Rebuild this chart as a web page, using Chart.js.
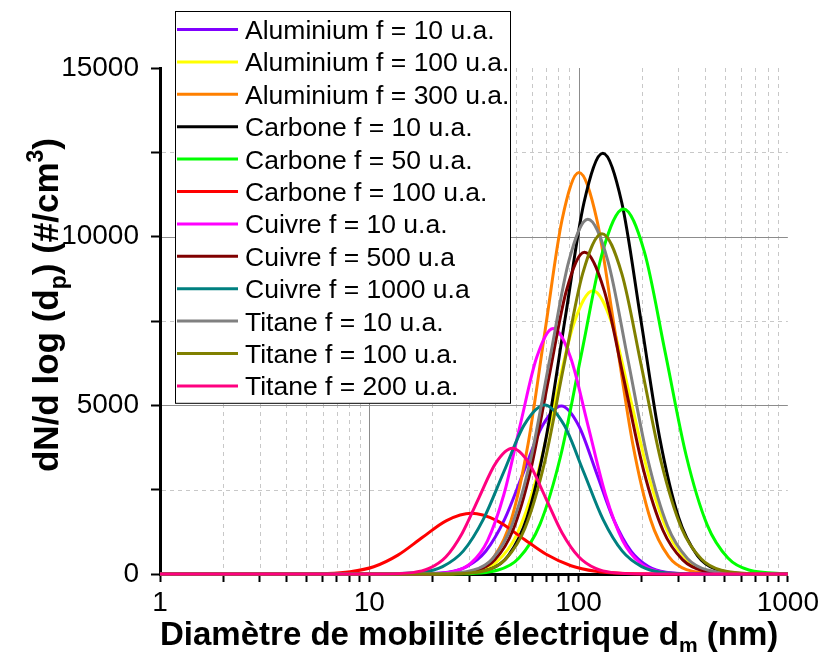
<!DOCTYPE html>
<html>
<head>
<meta charset="utf-8">
<script src="https://cdn.jsdelivr.net/npm/chart.js@4.4.1/dist/chart.umd.min.js"></script>
<style>
  html, body { margin: 0; padding: 0; background: #fff; }
  #wrap { width: 823px; height: 655px; }
</style>
</head>
<body>
<div id="wrap"><canvas id="chart" width="823" height="655"></canvas></div>
<script>
// diamètres (nm) et dN/dlog(dp), une paire de tableaux par courbe
const alu10D  = [1, 15.7, 23.8, 29.2, 36.0, 44.3, 54.6, 67.2, 82.8, 100.2, 121.4, 147.0, 178.1, 215.7, 261.2, 383.1, 1000];
const alu10N  = [0, 2, 55, 219, 674, 1617, 3020, 4395, 4980, 4395, 3020, 1617, 674, 219, 55, 2, 0];
const alu100D = [1, 21.7, 33.1, 40.8, 50.4, 62.2, 76.8, 94.8, 117.1, 144.6, 178.5, 220.4, 272.1, 336.0, 414.8, 632.3, 1000];
const alu100N = [0, 3, 93, 369, 1137, 2727, 5095, 7413, 8400, 7413, 5095, 2727, 1137, 369, 93, 3, 0];
const alu300D = [1, 22.7, 32.9, 39.6, 47.7, 57.4, 69.2, 83.4, 100.4, 122.3, 149.0, 181.5, 220.9, 269.1, 327.7, 486.1, 1000];
const alu300N = [0, 4, 132, 522, 1610, 3864, 7217, 10502, 11900, 10502, 7217, 3864, 1610, 522, 132, 4, 0];
const c10D    = [1, 24.7, 37.5, 46.2, 56.8, 70.0, 86.2, 106.1, 130.6, 160.9, 198.1, 243.9, 300.3, 369.7, 455.0, 690.0, 1000];
const c10N    = [0, 4, 138, 547, 1687, 4049, 7563, 11005, 12470, 11005, 7563, 4049, 1687, 547, 138, 4, 0];
const c50D    = [1, 26.0, 41.3, 51.9, 65.3, 82.2, 103.5, 130.2, 163.9, 206.3, 259.5, 326.7, 411.1, 517.3, 651.1, 1000];
const c50N    = [0, 5, 120, 475, 1464, 3513, 6562, 9549, 10820, 9549, 6562, 3513, 1464, 475, 120, 5];
const c100D   = [1, 3.8, 6.3, 8.1, 10.5, 13.7, 17.9, 23.4, 30.8, 40.5, 53.2, 70.0, 92.0, 121.0, 159.2, 275.2, 1000];
const c100N   = [0, 1, 16, 66, 215, 560, 1080, 1585, 1800, 1589, 1092, 584, 244, 79, 20, 1, 0];
const cu10D   = [1, 17.8, 25.6, 30.6, 36.7, 44.0, 52.6, 63.1, 75.6, 91.5, 110.8, 134.3, 162.6, 197.0, 238.5, 349.9, 1000];
const cu10N   = [0, 2, 81, 320, 985, 2364, 4415, 6425, 7280, 6425, 4415, 2364, 985, 320, 81, 2, 0];
const cu500D  = [1, 22.0, 32.7, 39.8, 48.5, 59.1, 71.9, 87.6, 106.7, 132.4, 164.4, 204.1, 253.3, 314.6, 390.4, 601.6, 1000];
const cu500N  = [0, 3, 106, 419, 1290, 3096, 5783, 8415, 9535, 8415, 5783, 3096, 1290, 419, 106, 3, 0];
const cu1000D = [1, 11.4, 17.9, 22.4, 28.1, 35.1, 44.0, 55.0, 68.9, 85.2, 105.5, 130.7, 161.8, 200.3, 248.0, 380.1, 1000];
const cu1000N = [0, 2, 56, 220, 678, 1627, 3039, 4421, 5010, 4421, 3039, 1627, 678, 220, 56, 2, 0];
const ti10D   = [1, 20.7, 31.5, 38.9, 47.9, 59.1, 72.9, 89.9, 110.8, 138.0, 171.8, 213.8, 266.1, 331.3, 412.4, 639.0, 1000];
const ti10N   = [0, 4, 117, 462, 1423, 3416, 6380, 9284, 10520, 9284, 6380, 3416, 1423, 462, 117, 4, 0];
const ti100D  = [1, 23.8, 36.4, 44.9, 55.5, 68.6, 84.7, 104.6, 129.2, 160.9, 200.2, 249.2, 310.1, 386.2, 480.9, 744.9, 1000];
const ti100N  = [0, 3, 112, 443, 1365, 3276, 6120, 8904, 10090, 8904, 6120, 3276, 1365, 443, 112, 3, 0];
const ti200D  = [1, 11.1, 16.1, 19.3, 23.2, 27.8, 33.4, 40.2, 48.2, 57.9, 69.6, 83.6, 100.4, 120.6, 145.0, 209.2, 1000];
const ti200N  = [0, 1, 41, 164, 504, 1210, 2259, 3287, 3725, 3287, 2259, 1210, 504, 164, 41, 1, 0];

const seriesNames = [
  'Aluminium f = 10 u.a.', 'Aluminium f = 100 u.a.', 'Aluminium f = 300 u.a.',
  'Carbone f = 10 u.a.', 'Carbone f = 50 u.a.', 'Carbone f = 100 u.a.',
  'Cuivre f = 10 u.a.', 'Cuivre f = 500 u.a', 'Cuivre f = 1000 u.a',
  'Titane f = 10 u.a.', 'Titane f = 100 u.a.', 'Titane f = 200 u.a.'
];
const seriesColors = ['#8000ff', '#ffff00', '#ff8000', '#000000', '#00ff00', '#ff0000',
                      '#ff00ff', '#800000', '#008080', '#808080', '#808000', '#ff0080'];
const seriesX = [alu10D, alu100D, alu300D, c10D, c50D, c100D, cu10D, cu500D, cu1000D, ti10D, ti100D, ti200D];
const seriesY = [alu10N, alu100N, alu300N, c10N, c50N, c100N, cu10N, cu500N, cu1000N, ti10N, ti100N, ti200N];

const xTicks = [1, 2, 3, 4, 5, 6, 7, 8, 9, 10, 20, 30, 40, 50, 60, 70, 80, 90,
                100, 200, 300, 400, 500, 600, 700, 800, 900, 1000];
const xTickLabels = { 1: '1', 10: '10', 100: '100', 1000: '1000' };
const yTicks = [0, 2500, 5000, 7500, 10000, 12500, 15000];
const yTickLabels = { 0: '0', 5000: '5000', 10000: '10000', 15000: '15000' };
const xMajorGrid = [10, 100];
const xMinorGrid = xTicks.filter(v => !(v in xTickLabels));
const yMajorGrid = [5000, 10000];
const yMinorGrid = [2500, 7500, 12500];

const FONT = '"Liberation Sans", Arial, sans-serif';

const datasets = seriesNames.map((name, i) => ({
  label: name,
  data: seriesX[i].map((d, k) => ({ x: d, y: seriesY[i][k] })),
  borderColor: seriesColors[i],
  borderWidth: 3,
  pointRadius: 0,
  cubicInterpolationMode: 'monotone',
  fill: false,
  clip: false,
  order: seriesNames.length - i   // la dernière courbe passe au-dessus
}));

// grille : traits pleins aux décades / 5000, pointillés ailleurs
const gridPlugin = {
  id: 'grid',
  beforeDraw(chart) {
    const { ctx, chartArea: a, scales: { x, y } } = chart;
    const vline = v => { const p = Math.round(x.getPixelForValue(v)) + 0.5; ctx.beginPath(); ctx.moveTo(p, a.top); ctx.lineTo(p, a.bottom - 2); ctx.stroke(); };
    const hline = v => { const p = Math.round(y.getPixelForValue(v)) + 0.5; ctx.beginPath(); ctx.moveTo(a.left + 2, p); ctx.lineTo(a.right, p); ctx.stroke(); };
    ctx.save();
    ctx.lineWidth = 1;
    ctx.strokeStyle = '#c8c8c8';
    ctx.setLineDash([4, 4]);
    xMinorGrid.forEach(vline);
    yMinorGrid.forEach(hline);
    ctx.setLineDash([]);
    ctx.strokeStyle = '#8c8c8c';
    xMajorGrid.forEach(vline);
    yMajorGrid.forEach(hline);
    ctx.restore();
  }
};

// titres des axes avec indices / exposant
function drawRich(ctx, parts, x0, y0, size) {
  let x = x0;
  parts.forEach(p => {
    const s = p.sub || p.sup ? Math.round(size * 0.65) : size;
    ctx.font = 'bold ' + s + 'px ' + FONT;
    const dy = p.sub ? size * 0.22 : (p.sup ? -size * 0.42 : 0);
    ctx.fillText(p.t, x, y0 + dy);
    x += ctx.measureText(p.t).width;
  });
  return x - x0;
}
function richWidth(ctx, parts, size) {
  let w = 0;
  parts.forEach(p => {
    const s = p.sub || p.sup ? Math.round(size * 0.65) : size;
    ctx.font = 'bold ' + s + 'px ' + FONT;
    w += ctx.measureText(p.t).width;
  });
  return w;
}
const xTitle = [{ t: 'Diamètre de mobilité électrique d' }, { t: 'm', sub: true }, { t: ' (nm)' }];
const yTitle = [{ t: 'dN/d log (d' }, { t: 'p', sub: true }, { t: ') (#/cm' }, { t: '3', sup: true }, { t: ')' }];

const titlePlugin = {
  id: 'titles',
  afterDraw(chart) {
    const { ctx } = chart;
    ctx.save();
    ctx.fillStyle = '#000';
    ctx.textBaseline = 'alphabetic';
    ctx.textAlign = 'left';
    drawRich(ctx, xTitle, 160, 645, 33);
    const w = richWidth(ctx, yTitle, 35);
    ctx.translate(58, 305);
    ctx.rotate(-Math.PI / 2);
    drawRich(ctx, yTitle, -w / 2, 0, 35);
    ctx.restore();
  }
};

// légende encadrée, posée sur le graphique
const legendPlugin = {
  id: 'boxLegend',
  afterDraw(chart) {
    const { ctx } = chart;
    const left = 175.5, top = 11.5, width = 335, rowH = 32.4;
    const height = rowH * seriesNames.length + 3;
    ctx.save();
    ctx.fillStyle = '#fff';
    ctx.fillRect(left, top, width, height);
    ctx.strokeStyle = '#000';
    ctx.lineWidth = 1;
    ctx.strokeRect(left, top, width, height);
    ctx.font = '26.5px ' + FONT;
    ctx.textBaseline = 'alphabetic';
    seriesNames.forEach((name, i) => {
      const cy = 29.5 + i * rowH;
      ctx.strokeStyle = seriesColors[i];
      ctx.lineWidth = 3;
      ctx.beginPath();
      ctx.moveTo(177, cy);
      ctx.lineTo(238, cy);
      ctx.stroke();
      ctx.fillStyle = '#000';
      ctx.fillText(name, 245, cy + 9.5);
    });
    ctx.restore();
  }
};

new Chart(document.getElementById('chart'), {
  type: 'line',
  data: { datasets },
  options: {
    responsive: false,
    animation: false,
    events: [],
    layout: { padding: { top: 68, right: 32, left: 0, bottom: 0 } },
    plugins: { legend: { display: false }, tooltip: { enabled: false }, title: { display: false } },
    scales: {
      x: {
        type: 'logarithmic',
        min: 1,
        max: 1000,
        afterBuildTicks: s => { s.ticks = xTicks.map(v => ({ value: v })); },
        afterFit: s => { s.height = 81; },
        ticks: {
          autoSkip: false,
          maxRotation: 0,
          padding: 4,
          color: '#000',
          font: { family: FONT, size: 28 },
          callback: v => xTickLabels[v] || ''
        },
        grid: { drawOnChartArea: false, drawTicks: true, tickLength: 8, tickWidth: 2, tickColor: '#000' },
        border: { display: true, color: '#000', width: 3 }
      },
      y: {
        type: 'linear',
        min: 0,
        max: 15000,
        afterBuildTicks: s => { s.ticks = yTicks.map(v => ({ value: v })); },
        afterFit: s => { s.width = 160; },
        ticks: {
          autoSkip: false,
          padding: 12,
          color: '#000',
          font: { family: FONT, size: 28 },
          callback: v => yTickLabels[v] || ''
        },
        grid: { drawOnChartArea: false, drawTicks: true, tickLength: 9, tickWidth: 2, tickColor: '#000' },
        border: { display: true, color: '#000', width: 3 }
      }
    }
  },
  plugins: [gridPlugin, titlePlugin, legendPlugin]
});
</script>
</body>
</html>
